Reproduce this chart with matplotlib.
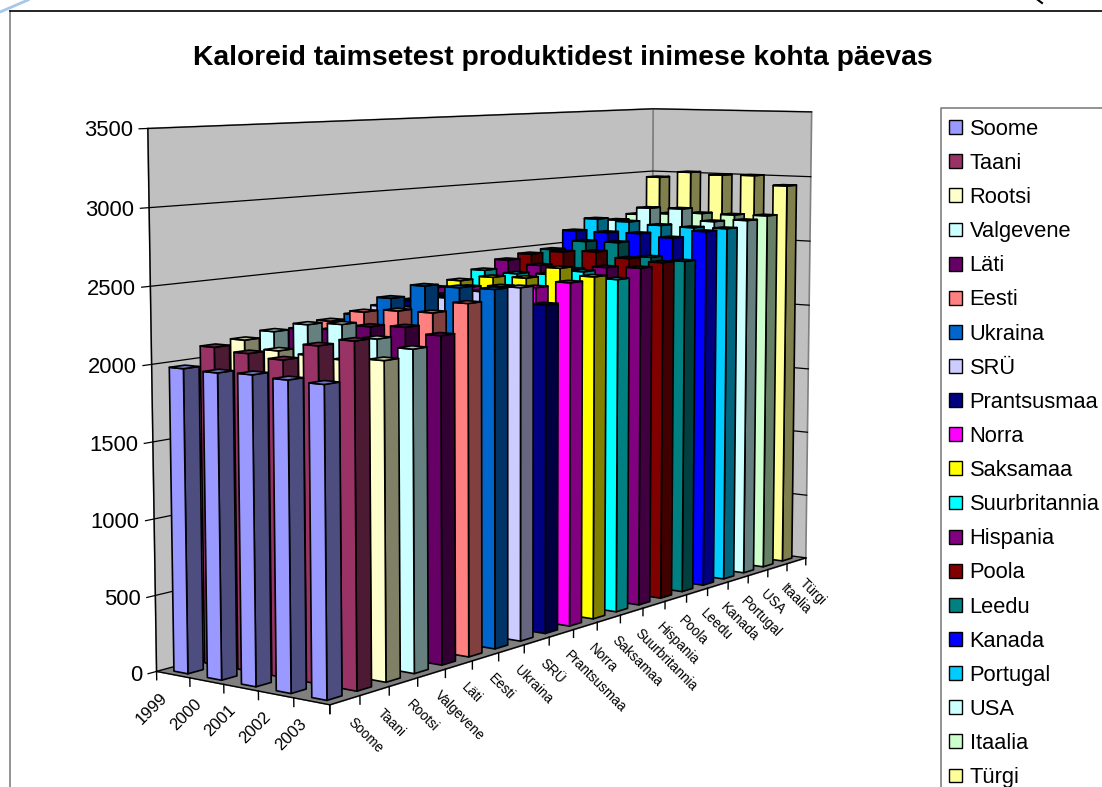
import numpy as np
import matplotlib
matplotlib.use('Agg')
import matplotlib.pyplot as plt
from matplotlib.patches import Patch
from matplotlib.lines import Line2D
from mpl_toolkits.mplot3d.art3d import Poly3DCollection

plt.rcParams['font.family'] = ['Liberation Sans', 'DejaVu Sans']

W, H = 1102, 787

years = ['1999', '2000', '2001', '2002', '2003']
countries = ['Soome', 'Taani', 'Rootsi', 'Valgevene', 'Läti', 'Eesti', 'Ukraina', 'SRÜ', 'Prantsusmaa', 'Norra',
             'Saksamaa', 'Suurbritannia', 'Hispania', 'Poola', 'Leedu', 'Kanada', 'Portugal', 'USA', 'Itaalia', 'Türgi']
colors = ['#9999FF', '#993366', '#FFFFCC', '#CCFFFF', '#660066', '#FF8080', '#0066CC', '#CCCCFF', '#000080', '#FF00FF',
          '#FFFF00', '#00FFFF', '#800080', '#800000', '#008080', '#0000FF', '#00CCFF', '#CCFFFF', '#CCFFCC', '#FFFF99']

# values, one list per year, same order as countries
kcal_1999 = [1980, 2090, 2110, 2140, 2130, 2160, 2180, 2215, 2230, 2300, 2330, 2385, 2440, 2465, 2480, 2605, 2680, 2655, 2685, 2965]
kcal_2000 = [1975, 2070, 2060, 2205, 2145, 2240, 2310, 2225, 2285, 2320, 2370, 2375, 2415, 2495, 2555, 2605, 2670, 2760, 2700, 3013]
kcal_2001 = [1985, 2050, 2050, 2225, 2185, 2265, 2410, 2305, 2320, 2340, 2380, 2385, 2400, 2510, 2560, 2610, 2655, 2765, 2715, 3000]
kcal_2002 = [1975, 2160, 2040, 2150, 2200, 2270, 2415, 2365, 2350, 2350, 2465, 2420, 2430, 2475, 2465, 2590, 2650, 2680, 2715, 3005]
kcal_2003 = [1970, 2210, 2060, 2105, 2165, 2350, 2420, 2410, 2270, 2400, 2420, 2380, 2440, 2460, 2450, 2650, 2655, 2700, 2720, 2935]
kcal = [kcal_1999, kcal_2000, kcal_2001, kcal_2002, kcal_2003]

zticks = [0, 500, 1000, 1500, 2000, 2500, 3000, 3500]

# camera: where points of the chart box (country, year, kcal) land on the image
box_pts = [(0, 0, 0), (0, 5, 0), (20, 5, 0), (0, 0, 3500), (20, 0, 3500), (20, 5, 3500),
           (20, 0, 3000), (0, 0, 2000), (0, 0, 1000), (20, 5, 2000), (20, 5, 1000)]
img_pts = [(157, 672), (330, 705), (806, 558), (148, 129), (653, 108), (812, 112),
           (653, 172), (151, 364), (154, 518), (809, 305), (807, 432)]


def fit_camera(box, img):
    # direct linear transform, gives 3x4 matrix with last entry 1
    rows, rhs = [], []
    for (x, y, z), (u, v) in zip(box, img):
        rows.append([x, y, z, 1, 0, 0, 0, 0, -u * x, -u * y, -u * z])
        rows.append([0, 0, 0, 0, x, y, z, 1, -v * x, -v * y, -v * z])
        rhs += [u, v]
    p = np.linalg.lstsq(np.array(rows, float), np.array(rhs, float), rcond=None)[0]
    return np.append(p, 1).reshape(3, 4)


fig = plt.figure(figsize=(W / 100, H / 100), dpi=100)
ax = fig.add_axes([0, 0, 1, 1], projection='3d', computed_zorder=False)
ax.set_axis_off()
ax.patch.set_visible(False)
ax.apply_aspect()

cam = fit_camera(box_pts, img_pts)
# image pixels to the 2d data coordinates of the 3d axes
to_data = ax.transData.inverted().get_matrix()
flip = np.array([[1, 0, 0], [0, -1, H], [0, 0, 1]], float)
proj2d = to_data @ flip @ cam
M = np.vstack([proj2d[0], proj2d[1], [0, 0, 0, -1], proj2d[2]])
ax.get_proj = lambda: M


def label(c, t, z, s, dx=0, dy=0, **kw):
    # text goes on the figure, at the image position of a box point
    u, v, w = cam @ np.array([c, t, z, 1.0])
    fig.text((u / w + dx) / W, 1 - (v / w + dy) / H, s, **kw)


def page_line(xs, ys, **kw):
    # line on the figure, given in image pixels
    fig.add_artist(Line2D([x / W for x in xs], [1 - y / H for y in ys], **kw))


def darker(color, f):
    return tuple(c * f for c in matplotlib.colors.to_rgb(color))


# the 3d axes is kept square by mplot3d, so nothing may clip to it
# walls and floor
ax.add_collection3d(Poly3DCollection([[(0, 0, 0), (20, 0, 0), (20, 0, 3500), (0, 0, 3500)],
                                      [(20, 0, 0), (20, 5, 0), (20, 5, 3500), (20, 0, 3500)]],
                                     facecolors='#C0C0C0', edgecolors='#808080', linewidths=1.2,
                                     zorder=1, clip_on=False), autolim=False)
ax.add_collection3d(Poly3DCollection([[(0, 0, 0), (20, 0, 0), (20, 5, 0), (0, 5, 0)]],
                                     facecolors='#808080', edgecolors='#808080', linewidths=0.5,
                                     zorder=1, clip_on=False), autolim=False)

# gridlines on the walls and ticks on the value axis
for z in zticks:
    ax.plot([-0.27, 20, 20], [0, 0, 5], [z, z, z], color='black', lw=0.9, zorder=2, clip_on=False)
    label(-0.27, 0, z, str(z), dx=-6, dy=2, ha='right', va='center', fontsize=15.8)

# axis lines
ax.plot([0, 0], [0, 0], [0, 3500], color='black', lw=1.0, zorder=2, clip_on=False)
ax.plot([0, 0, 20], [0, 5, 5], [0, 0, 0], color='black', lw=1.0, zorder=2, clip_on=False)
for t in range(6):
    ax.plot([0, 0], [t, t], [0, -55], color='black', lw=1.0, zorder=2, clip_on=False)
for c in range(21):
    ax.plot([c, c], [5, 5], [0, -55], color='black', lw=1.0, zorder=2, clip_on=False)

for t, year in enumerate(years):
    label(0, t + 0.5, 0, year, dx=-13, dy=15, rotation=45, rotation_mode='anchor', ha='right', va='top', fontsize=12)
for c, name in enumerate(countries):
    label(c + 0.5, 5, 0, name, dx=10, dy=15, rotation=-45, rotation_mode='anchor', ha='left', va='top', fontsize=9.8)

# bars, painted from the back to the front
bar_c = 0.25  # half width along the countries
bar_t = 0.21  # half width along the years
order = 10
for c in range(len(countries) - 1, -1, -1):
    for t in range(len(years)):
        z = kcal[t][c]
        c0, c1 = c + 0.5 - bar_c, c + 0.5 + bar_c
        t0, t1 = t + 0.5 - bar_t, t + 0.5 + bar_t
        faces = [[(c0, t0, 0), (c0, t1, 0), (c0, t1, z), (c0, t0, z)],
                 [(c0, t1, 0), (c1, t1, 0), (c1, t1, z), (c0, t1, z)],
                 [(c0, t0, z), (c0, t1, z), (c1, t1, z), (c1, t0, z)]]
        col = colors[c]
        ax.add_collection3d(Poly3DCollection(faces, facecolors=[col, darker(col, 0.5), darker(col, 0.75)],
                                             edgecolors='black', linewidths=1.2, zorder=order, clip_on=False),
                            autolim=False)
        order += 1

# chart frame, its bottom and right side are off the picture
page_line([9.5, 9.5], [10.5, 790], color='#808080', lw=1.2)
page_line([9.5, 1105], [10.5, 10.5], color='black', lw=1.2)

fig.text(563 / W, 1 - 58 / H, 'Kaloreid taimsetest produktidest inimese kohta päevas',
         ha='center', va='center', fontsize=20.3, fontweight='bold')

# legend box also runs off the picture, so its frame is drawn apart
handles = [Patch(facecolor=col, edgecolor='black', lw=1.0) for col in colors]
fig.legend(handles, countries, loc='upper left', bbox_to_anchor=(941 / W, 1 - 110.5 / H), borderaxespad=0,
           fontsize=15.75, frameon=False,
           handlelength=0.6, handleheight=0.6, handletextpad=0.33, labelspacing=0.6, borderpad=0.38)
page_line([941, 941, 1105], [790, 108, 108], color='#808080', lw=1.2)

# bits of the page around the chart
page_line([0, 28], [12, 0], color='#A6C8E8', lw=2)
page_line([1038, 1042], [0, 3], color='black', lw=1.5)

fig.savefig('out.png', dpi=100)
